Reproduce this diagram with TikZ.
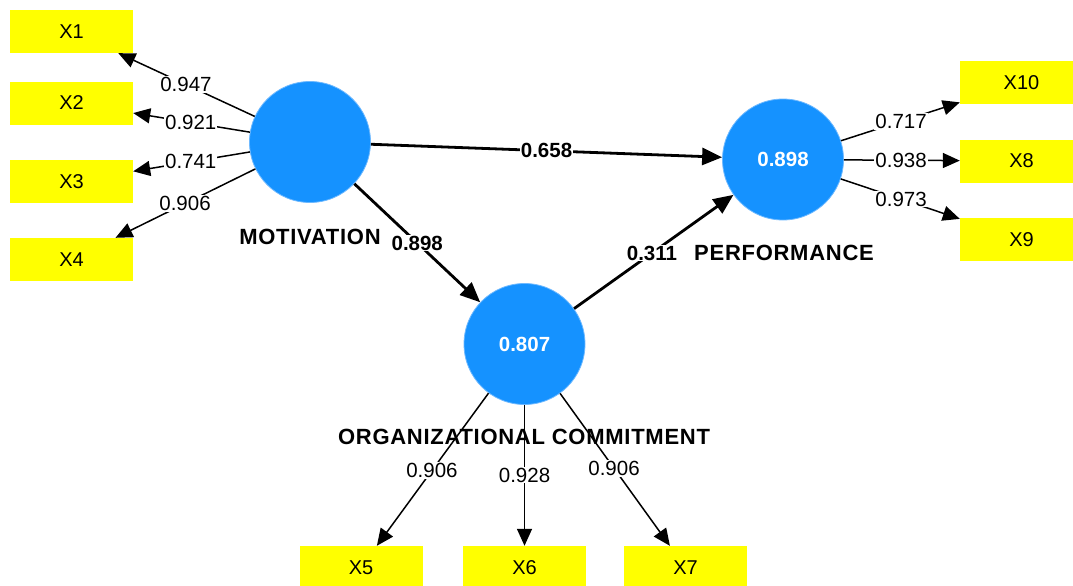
\documentclass[tikz,border=0pt]{standalone}
\usepackage{fontspec}
\setmainfont{Liberation Sans}
\newfontfamily\namefont[LetterSpace=3.3]{Liberation Sans}
\usetikzlibrary{arrows.meta,calc}
\definecolor{lvblue}{RGB}{21,146,255}
\definecolor{lvedge}{RGB}{110,185,255}
\definecolor{mvyellow}{RGB}{255,255,0}

\begin{document}
\begin{tikzpicture}[x=1pt,y=-1pt,
  indicator/.style={fill=mvyellow, minimum width=123pt, minimum height=43pt,
    inner sep=0pt, font=\fontsize{20}{22}\selectfont},
  construct/.style={circle, fill=lvblue, draw=lvedge, line width=0.8pt,
    minimum size=121pt, inner sep=0pt, text=white,
    font=\bfseries\fontsize{20.5}{22}\selectfont},
  cname/.style={inner sep=0pt, font=\namefont\bfseries\fontsize{22}{24}\selectfont},
  loadarrow/.style={line width=1.5pt, -{Triangle[length=17pt,width=15pt]}},
  patharrow/.style={line width=2.8pt, -{Triangle[length=20pt,width=17pt]}},
  loadlabel/.style={fill=white, inner sep=1pt, font=\fontsize{20.5}{22}\selectfont},
  pathlabel/.style={fill=white, inner sep=1pt, font=\bfseries\fontsize{20.5}{22}\selectfont},
]
\useasboundingbox (0,0) rectangle (1073,586);
\clip (0,0) rectangle (1073,586);

% indicator boxes
\node[indicator] (X1) at (71.5,31.5) {X1};
\node[indicator] (X2) at (71.5,103) {X2};
\node[indicator] (X3) at (71.5,181.5) {X3};
\node[indicator] (X4) at (71.5,259.5) {X4};
\node[indicator] (X10) at (1021.5,82.5) {X10};
\node[indicator] (X8) at (1021.5,161) {X8};
\node[indicator] (X9) at (1021.5,239.5) {X9};
\node[indicator] (X5) at (361,567.5) {X5};
\node[indicator] (X6) at (524.5,567.5) {X6};
\node[indicator] (X7) at (685.5,567.5) {X7};

% latent constructs
\node[construct] (mot) at (310,142) {};
\node[construct] (perf) at (783,159.5) {0.898};
\node[construct] (org) at (524.5,344) {0.807};

% construct names
\node[cname] (motname) at (310,237) {MOTIVATION};
\node[cname] (perfname) at (784,253) {PERFORMANCE};

% outer loadings
\draw[loadarrow] (mot) -- (X1);
\draw[loadarrow] (mot) -- (X2);
\draw[loadarrow] (mot) -- (X3);
\draw[loadarrow] (mot) -- (X4);
\draw[loadarrow] (perf) -- (X10);
\draw[loadarrow] (perf) -- (X8);
\draw[loadarrow] (perf) -- (X9);
\draw[loadarrow] (org) -- (X5);
\draw[loadarrow] (org) -- (X6);
\draw[loadarrow] (org) -- (X7);

% path coefficients
\draw[patharrow] (mot) -- (perf);
\draw[patharrow] (mot) -- (org);
\draw[patharrow] (org) -- (perf);

% loading values
\node[loadlabel] (l1) at ($(mot)!0.52!(X1)$) {0.947};
\node[loadlabel] (l2) at ($(mot)!0.50!(X2)$) {0.921};
\node[loadlabel] (l3) at ($(mot)!0.50!(X3)$) {0.741};
\node[loadlabel] (l4) at ($(mot)!0.524!(X4)$) {0.906};
\node[loadlabel] (l10) at ($(perf)!0.495!(X10)$) {0.717};
\node[loadlabel] (l8) at ($(perf)!0.495!(X8)$) {0.938};
\node[loadlabel] (l9) at ($(perf)!0.495!(X9)$) {0.973};
\node[loadlabel] (l5) at ($(org)!0.566!(X5)$) {0.906};
\node[loadlabel] (l6) at ($(org)!0.586!(X6)$) {0.928};
\node[loadlabel] (l7) at ($(org)!0.556!(X7)$) {0.906};

% coefficient values
\node[pathlabel] (p1) at ($(mot)!0.5!(perf)$) {0.658};
\node[pathlabel] (p2) at ($(mot)!0.5!(org)$) {0.898};
\node[pathlabel] (p3) at ($(org)!0.493!(perf)$) {0.311};

% name drawn over the loading lines
\node[cname] (orgname) at (524,437) {ORGANIZATIONAL COMMITMENT};
\end{tikzpicture}
\end{document}
